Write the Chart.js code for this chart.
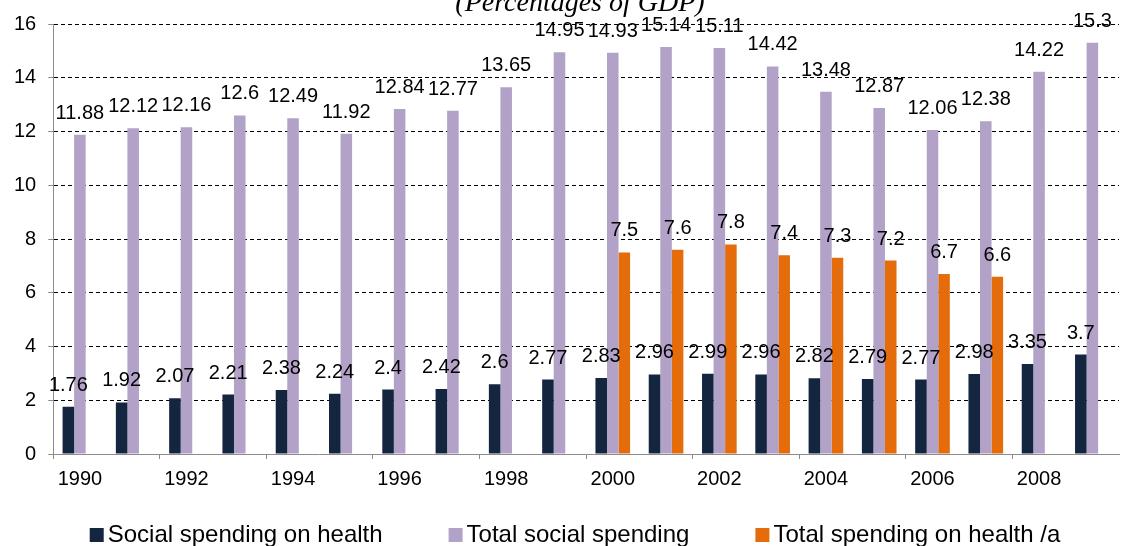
<!DOCTYPE html>
<html>
<head>
<meta charset="utf-8">
<script src="https://cdn.jsdelivr.net/npm/chart.js@4"></script>
<style>
  html, body { margin: 0; padding: 0; background: #fff; overflow: hidden; }
  #wrap { width: 1121px; height: 546px; position: relative; }
</style>
</head>
<body>
<div id="wrap"><canvas id="bar-chart"></canvas></div>
<script>
var years = ['1990', '1991', '1992', '1993', '1994', '1995', '1996', '1997', '1998', '1999',
             '2000', '2001', '2002', '2003', '2004', '2005', '2006', '2007', '2008', '2009'];
var socialHealth = [1.76, 1.92, 2.07, 2.21, 2.38, 2.24, 2.4, 2.42, 2.6, 2.77,
                    2.83, 2.96, 2.99, 2.96, 2.82, 2.79, 2.77, 2.98, 3.35, 3.7];
var totalSocial = [11.88, 12.12, 12.16, 12.6, 12.49, 11.92, 12.84, 12.77, 13.65, 14.95,
                   14.93, 15.14, 15.11, 14.42, 13.48, 12.87, 12.06, 12.38, 14.22, 15.3];
var totalHealth = [null, null, null, null, null, null, null, null, null, null,
                   7.5, 7.6, 7.8, 7.4, 7.3, 7.2, 6.7, 6.6, null, null];
var seriesNames = ['Social spending on health', 'Total social spending', 'Total spending on health /a'];
var seriesColors = ['#14263F', '#B3A2C7', '#E46C0A'];
var yTicks = [0, 2, 4, 6, 8, 10, 12, 14, 16];
var subtitle = '(Percentages of GDP)';

var sansFont = '"Liberation Sans", Arial, sans-serif';

// value labels above each bar
var barLabels = {
    id: 'barLabels',
    afterDatasetsDraw: function(chart) {
        var ctx = chart.ctx;
        ctx.save();
        ctx.font = '20px ' + sansFont;
        ctx.fillStyle = '#000';
        ctx.textAlign = 'center';
        ctx.textBaseline = 'alphabetic';
        chart.data.datasets.forEach(function(ds, i) {
            var meta = chart.getDatasetMeta(i);
            meta.data.forEach(function(bar, j) {
                var v = ds.data[j];
                if (v === null || v === undefined) return;
                ctx.fillText(String(v), bar.x, bar.y - 16);
            });
        });
        ctx.restore();
    }
};

// subtitle (top cut off by the page edge) and the legend row at the bottom
var extras = {
    id: 'extras',
    afterDraw: function(chart) {
        var ctx = chart.ctx;
        ctx.save();
        ctx.font = 'italic 28px "Liberation Serif", "Times New Roman", serif';
        ctx.fillStyle = '#000';
        ctx.textAlign = 'center';
        ctx.textBaseline = 'alphabetic';
        ctx.fillText(subtitle, 580, 11);

        // legend: small square, 4px gap, label, then space to the next item
        ctx.font = '24px ' + sansFont;
        ctx.textAlign = 'left';
        ctx.textBaseline = 'middle';
        var box = 14, gap = 4, space = 66, yMid = 535;
        var widths = chart.data.datasets.map(function(ds) {
            return box + gap + ctx.measureText(ds.label).width;
        });
        var total = widths.reduce(function(a, b) { return a + b; }, 0) + space * (widths.length - 1);
        var x = 575 - total / 2;
        chart.data.datasets.forEach(function(ds, i) {
            ctx.fillStyle = ds.backgroundColor;
            ctx.fillRect(x, yMid - box / 2, box, box);
            ctx.fillStyle = '#000';
            ctx.fillText(ds.label, x + box + gap, yMid);
            x += widths[i] + space;
        });
        ctx.restore();
    }
};

var ctx = document.getElementById('bar-chart').getContext('2d');
var chart = new Chart(ctx, {
    type: 'bar',
    data: {
        labels: years,
        datasets: [{
            label: seriesNames[0],
            data: socialHealth,
            backgroundColor: seriesColors[0]
        }, {
            label: seriesNames[1],
            data: totalSocial,
            backgroundColor: seriesColors[1]
        }, {
            label: seriesNames[2],
            data: totalHealth,
            backgroundColor: seriesColors[2]
        }]
    },
    options: {
        responsive: true,
        maintainAspectRatio: false,
        animation: false,
        layout: {
            padding: { left: 2, right: 2, top: 12, bottom: 47 }
        },
        datasets: {
            bar: {
                categoryPercentage: 0.65,
                barPercentage: 1.0,
                borderWidth: 0
            }
        },
        plugins: {
            legend: { display: false },
            title: { display: false },
            tooltip: { enabled: false }
        },
        scales: {
            x: {
                grid: {
                    offset: true,
                    drawOnChartArea: false,
                    tickLength: 5,
                    color: function(c) { return c.index % 2 === 0 ? '#8c8c8c' : 'rgba(0,0,0,0)'; }
                },
                border: { color: '#8c8c8c', width: 1 },
                ticks: {
                    autoSkip: false,
                    maxRotation: 0,
                    padding: 8,
                    color: '#000',
                    font: { family: sansFont, size: 20 },
                    callback: function(v, i) { return i % 2 === 0 ? years[i] : ''; }
                }
            },
            y: {
                min: 0,
                max: 16,
                afterBuildTicks: function(axis) {
                    axis.ticks = yTicks.map(function(t) { return { value: t }; });
                },
                grid: {
                    tickLength: 5,
                    color: function(c) { return c.tick && c.tick.value === 0 ? 'rgba(0,0,0,0)' : '#000'; },
                    tickColor: '#8c8c8c',
                    tickBorderDash: []
                },
                border: { color: '#8c8c8c', width: 1, dash: [4, 3] },
                ticks: {
                    padding: 12,
                    color: '#000',
                    font: { family: sansFont, size: 20 }
                }
            }
        }
    },
    plugins: [barLabels, extras]
});
</script>
</body>
</html>
